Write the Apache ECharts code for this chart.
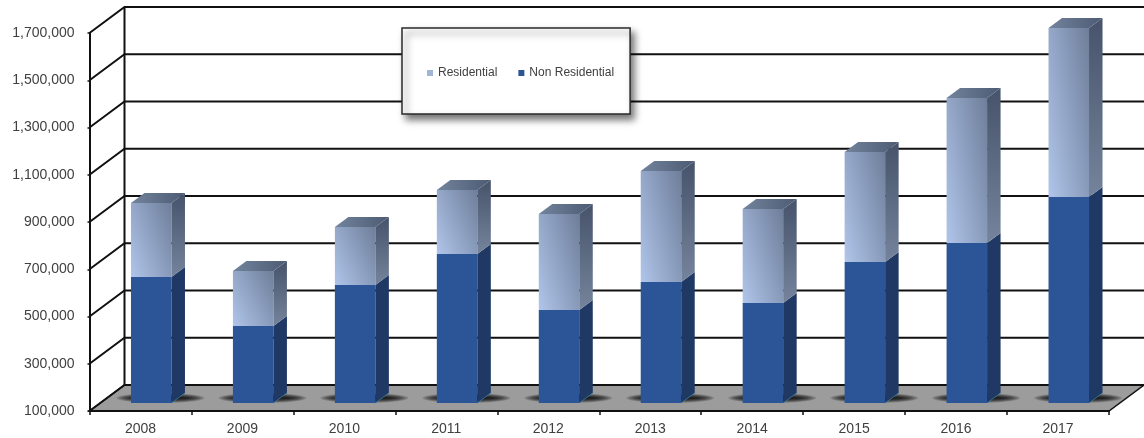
<!DOCTYPE html>
<html>
<head>
<meta charset="utf-8">
<style>html,body{margin:0;padding:0;background:#fff}#c{width:1144px;height:438px}</style>
<script src="https://cdn.jsdelivr.net/npm/echarts@6/dist/echarts.min.js"></script>
</head>
<body>
<div id="c"></div>
<script>
const categories = ['2008','2009','2010','2011','2012','2013','2014','2015','2016','2017'];
const nonResidential = [633000,426000,599000,731000,494000,612000,523000,697000,777000,972000];
const residential = [314000,233000,246000,271000,406000,470000,398000,465000,614000,715000];
const yTicks = [100000,300000,500000,700000,900000,1100000,1300000,1500000,1700000];

// oblique projection of the 3D look
const WALL_DX = 35, WALL_DY = -26;
const BAR_SHIFT_X = 10.75, BAR_SHIFT_Y = -8, BAR_W = 40.5, BAR_DX = 13.5, BAR_DY = -10;

const linear = (x1, y1, x2, y2, c1, c2) => ({type:'linear',x:x1,y:y1,x2:x2,y2:y2,colorStops:[{offset:0,color:c1},{offset:1,color:c2}]});
const poly = (points, fill, extra) => ({type:'polygon',shape:{points},style:Object.assign({fill},extra||{})});

// bottom-left to top-right shade that reaches its end colour exactly at the top-right corner, whatever the bar's height
function cornerShade(w, h, c1, c2) {
  const a = 0.6 / w, b = 0.4 / h, n = a * a + b * b;
  return linear(0, 1, (a / n) / w, 1 - (b / n) / h, c1, c2);
}

function barFaces(api, palette, withTop) {
  const i = api.value(0);
  const lo = api.coord([i, api.value(1)]);
  const hi = api.coord([i, api.value(2)]);
  const x0 = lo[0] + BAR_SHIFT_X - BAR_W / 2, x1 = x0 + BAR_W;
  const yb = lo[1] + BAR_SHIFT_Y, yt = hi[1] + BAR_SHIFT_Y;
  const front = typeof palette.front === 'function' ? palette.front(BAR_W, yb - yt) : palette.front;
  const kids = [
    poly([[x0,yb],[x1,yb],[x1,yt],[x0,yt]], front),
    poly([[x1,yb],[x1+BAR_DX,yb+BAR_DY],[x1+BAR_DX,yt+BAR_DY],[x1,yt]], palette.side)
  ];
  if (withTop) kids.push(poly([[x0,yt],[x1,yt],[x1+BAR_DX,yt+BAR_DY],[x0+BAR_DX,yt+BAR_DY]], palette.top));
  else kids.push({type:'line',shape:{x1:x1,y1:yb,x2:x1+BAR_DX,y2:yb+BAR_DY},style:{stroke:'rgba(60,140,170,0.7)',lineWidth:1}});
  return kids;
}

const baseRows = categories.map((c,i)=>[i,100000,nonResidential[i]]);
const topRows = categories.map((c,i)=>[i,nonResidential[i],nonResidential[i]+residential[i]]);

const option = {
  animation:false,
  backgroundColor:'#fff',
  grid:{left:89.5,right:35,top:33,bottom:27,containLabel:false},
  legend:{
    data:['Residential','Non Residential'],
    left:402,top:28,
    orient:'horizontal',
    itemWidth:6,itemHeight:6,itemGap:21,
    icon:'rect',selectedMode:false,
    padding:[39,16,35,25],
    backgroundColor:'#fff',borderColor:'#2a2a2a',borderWidth:1.5,
    shadowColor:'rgba(0,0,0,0.55)',shadowBlur:7,shadowOffsetX:4,shadowOffsetY:5,
    textStyle:{fontFamily:'Liberation Sans',fontSize:12,color:'#404040'}
  },
  xAxis:{
    type:'category',data:categories,z:3,
    axisLine:{lineStyle:{color:'#111',width:2}},
    axisTick:{show:true,length:4,lineStyle:{color:'#111',width:1.5}},
    axisLabel:{fontFamily:'Liberation Sans',fontSize:14,color:'#404040',margin:11}
  },
  yAxis:{
    type:'value',min:100000,max:1700000,z:3,
    axisLine:{show:true,lineStyle:{color:'#111',width:2}},
    axisTick:{show:true,length:2,customValues:yTicks,lineStyle:{color:'#111',width:1.5}},
    splitLine:{show:false},
    axisLabel:{customValues:yTicks,fontFamily:'Liberation Sans',fontSize:14,color:'#404040',margin:15,
      formatter:v=>v.toLocaleString('en-US')}
  },
  series:[
    {name:'floor',type:'custom',coordinateSystem:'cartesian2d',z:1,silent:true,
     data:[[0,yTicks[0]]],encode:{x:0,y:1},
     renderItem(p,api){
       const cs=p.coordSys, y=api.coord([0,api.value(1)])[1], l=cs.x, r=cs.x+cs.width;
       return poly([[l,y],[l+WALL_DX,y+WALL_DY],[r+WALL_DX,y+WALL_DY],[r,y]],'#9c9c9c',{stroke:'#111',lineWidth:1.5});
     }},
    {name:'walls',type:'custom',coordinateSystem:'cartesian2d',z:1,silent:true,
     data:yTicks.map(v=>[0,v]),encode:{x:0,y:1},
     renderItem(p,api){
       const cs=p.coordSys, y=api.coord([0,api.value(1)])[1], l=cs.x, r=cs.x+cs.width;
       const kids=[{type:'polyline',shape:{points:[[l,y],[l+WALL_DX,y+WALL_DY],[r+WALL_DX,y+WALL_DY]]},style:{fill:null,stroke:'#111',lineWidth:2}}];
       if(p.dataIndex===0){
         const top=cs.y+WALL_DY;
         kids.push({type:'line',shape:{x1:l+WALL_DX,y1:y+WALL_DY,x2:l+WALL_DX,y2:top},style:{stroke:'#111',lineWidth:2}});
       }
       return {type:'group',children:kids};
     }},
    {name:'floorShadow',type:'custom',coordinateSystem:'cartesian2d',z:1,silent:true,
     data:baseRows,encode:{x:0,y:1},
     renderItem(p,api){
       const c=api.coord([api.value(0),api.value(1)]);
       const kids=[];
       for(let k=0;k<10;k++){
         kids.push({type:'ellipse',shape:{cx:c[0]+20,cy:c[1]-13,rx:44-k*1.9,ry:5-k*0.45},
           style:{fill:'rgba(0,0,0,0.14)'}});
       }
       return {type:'group',children:kids};
     }},
    {name:'Non Residential',type:'custom',coordinateSystem:'cartesian2d',z:2,
     itemStyle:{color:'#2c5597'},
     data:baseRows,encode:{x:0,y:[1,2]},
     renderItem(p,api){
       return {type:'group',children:barFaces(api,{front:'#2c5597',side:'#1f3864'},false)};
     }},
    {name:'Residential',type:'custom',coordinateSystem:'cartesian2d',z:2,
     itemStyle:{color:'#a0b5d8'},
     data:topRows,encode:{x:0,y:[1,2]},
     renderItem(p,api){
       return {type:'group',children:barFaces(api,{
         front:(w,h)=>cornerShade(w,h,'#b0c5ea','#6e7e9a'),
         side:linear(0,0,0,1,'#46536a','#75849c'),
         top:linear(0,0,1,0,'#72839c','#4d5b74')
       },true)};
     }}
  ]
};
echarts.init(document.getElementById('c'),null,{renderer:'canvas'}).setOption(option);
</script>
</body>
</html>
